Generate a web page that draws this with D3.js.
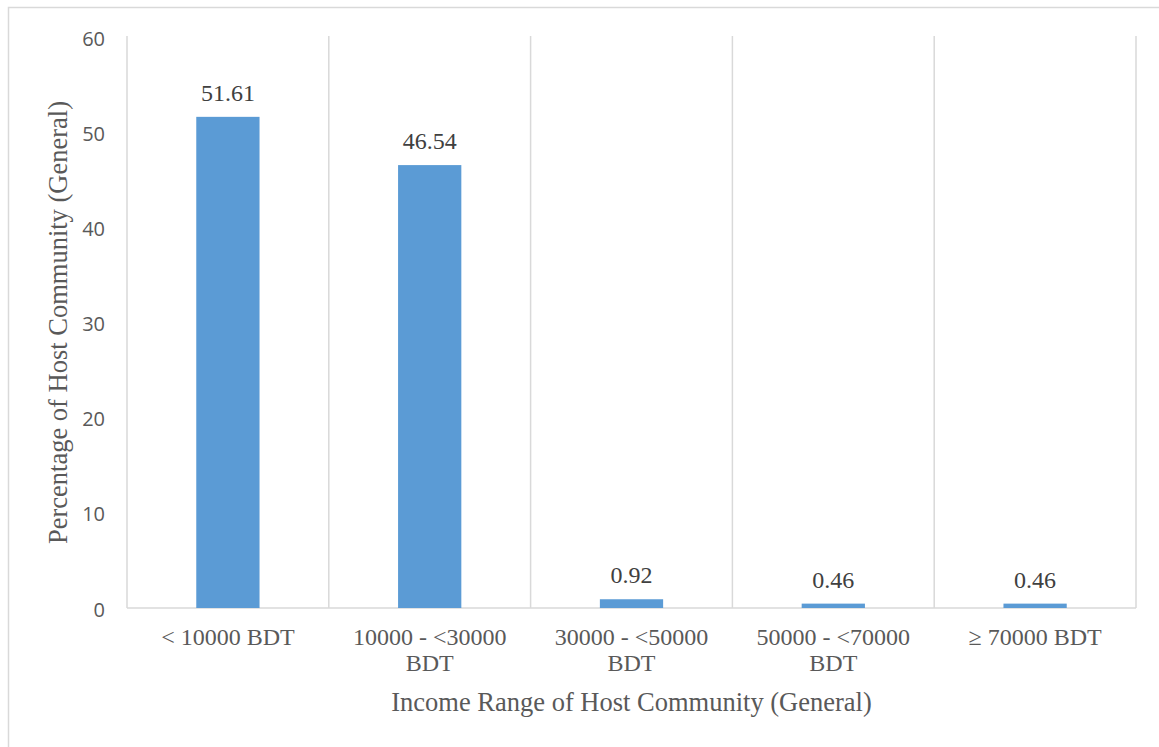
<!DOCTYPE html>
<html>
<head>
<meta charset="utf-8">
<script src="https://cdn.jsdelivr.net/npm/d3@7"></script>
<style>
  html, body { margin: 0; padding: 0; background: #fff; }
  svg { display: block; }
</style>
</head>
<body>
<svg id="chart" width="1159" height="747"></svg>
<script>
// Income ranges and share of households in each
const categories = [
  ["< 10000 BDT"],
  ["10000 - <30000", "BDT"],
  ["30000 - <50000", "BDT"],
  ["50000 - <70000", "BDT"],
  ["\u2265 70000 BDT"]
];
const values = [51.61, 46.54, 0.92, 0.46, 0.46];
const yTicks = [0, 10, 20, 30, 40, 50, 60];
const xTitle = "Income Range of Host Community (General)";
const yTitle = "Percentage of Host Community (General)";

const svg = d3.select("#chart");
const W = 1159, H = 747;
const plot = { left: 127, right: 1136, top: 37, bottom: 608 };

const serif = "Liberation Serif, Times New Roman, serif";
const sans = "Open Sans, Noto Sans, sans-serif";
const gridColor = "#d9d9d9";

// outer frame (runs past the right and bottom edges)
svg.append("rect")
  .attr("x", 8.5).attr("y", 7.5)
  .attr("width", W + 10).attr("height", H + 10)
  .attr("fill", "#fff")
  .attr("stroke", gridColor).attr("stroke-width", 1.5);

const idx = d3.range(values.length);
const xCat = d3.scaleBand().domain(idx).range([plot.left, plot.right]).padding(0);
const gap = 1 - 1 / 3.19;
const xBar = d3.scaleBand().domain(idx).range([plot.left, plot.right])
  .paddingInner(gap).paddingOuter(gap / 2);
const y = d3.scaleLinear().domain([0, 60]).range([plot.bottom, plot.top]);

// vertical separators between categories
const bounds = idx.map(i => xCat(i)).concat([plot.right]);
svg.append("g").selectAll("line").data(bounds).join("line")
  .attr("x1", d => d).attr("x2", d => d)
  .attr("y1", y(60) - 1).attr("y2", plot.bottom)
  .attr("stroke", gridColor).attr("stroke-width", 1.5);

// baseline
svg.append("line")
  .attr("x1", plot.left).attr("x2", plot.right)
  .attr("y1", plot.bottom).attr("y2", plot.bottom)
  .attr("stroke", gridColor).attr("stroke-width", 1.5);

// bars
svg.append("g").selectAll("rect").data(values).join("rect")
  .attr("x", (d, i) => xBar(i))
  .attr("width", xBar.bandwidth())
  .attr("y", d => y(d))
  .attr("height", d => plot.bottom - y(d))
  .attr("fill", "#5b9bd5");

// value labels
svg.append("g").selectAll("text").data(values).join("text")
  .attr("x", (d, i) => xBar(i) + xBar.bandwidth() / 2)
  .attr("y", d => y(d) - 16)
  .attr("text-anchor", "middle")
  .style("font-family", serif).style("font-size", "24px")
  .attr("fill", "#404040")
  .text(d => d.toFixed(2));

// y axis tick labels
const yAxis = d3.axisLeft(y).tickValues(yTicks).tickSize(0).tickPadding(0);
const gy = svg.append("g").attr("transform", `translate(105,0)`).call(yAxis);
gy.select(".domain").remove();
gy.selectAll("text")
  .style("font-family", sans).style("font-size", "20px")
  .attr("fill", "#595959").attr("dy", "0.4em");

// x category labels (two lines where wrapped)
const xl = svg.append("g").selectAll("text").data(categories).join("text")
  .attr("x", (d, i) => xCat(i) + xCat.bandwidth() / 2)
  .attr("y", 645)
  .attr("text-anchor", "middle")
  .style("font-family", serif).style("font-size", "24px")
  .attr("fill", "#595959");
xl.selectAll("tspan").data(d => d).join("tspan")
  .attr("x", function () { return d3.select(this.parentNode).attr("x"); })
  .attr("dy", (d, i) => i === 0 ? 0 : 26)
  .text(d => d);

// axis titles
svg.append("text")
  .attr("x", (plot.left + plot.right) / 2).attr("y", 711)
  .attr("text-anchor", "middle")
  .style("font-family", serif).style("font-size", "26.5px")
  .attr("fill", "#595959")
  .text(xTitle);

svg.append("text")
  .attr("transform", `translate(67,${(plot.top + plot.bottom) / 2}) rotate(-90)`)
  .attr("text-anchor", "middle")
  .style("font-family", serif).style("font-size", "26.5px")
  .attr("fill", "#595959")
  .text(yTitle);
</script>
</body>
</html>
